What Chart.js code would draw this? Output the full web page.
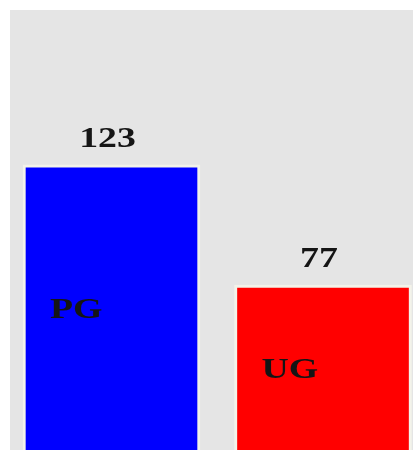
<!DOCTYPE html>
<html>
<head>
<meta charset="utf-8">
<script src="https://cdn.jsdelivr.net/npm/chart.js@4"></script>
<style>
  html, body { margin: 0; padding: 0; background: #fff; }
  #wrap { position: absolute; left: 10px; top: 10px; width: 403px; height: 440px; background: #e5e5e5; }
</style>
</head>
<body>
<div id="wrap"><canvas id="chart" width="403" height="440"></canvas></div>
<script>
const categories = ['PG', 'UG'];
const counts = [123, 77];
const barColors = ['#0000ff', '#ff0000'];

// text in the original looks stretched sideways, so labels are drawn with a scaleX
const labelPlugin = {
  id: 'barLabels',
  afterDatasetsDraw(chart) {
    const ctx = chart.ctx;
    const bottom = chart.chartArea.bottom;
    const meta = chart.getDatasetMeta(0);
    ctx.save();
    ctx.fillStyle = '#151515';
    ctx.font = 'bold 30px "Liberation Serif", "Times New Roman", serif';
    ctx.textBaseline = 'middle';
    meta.data.forEach((bar, i) => {
      const p = bar.getProps(['x', 'y', 'width'], true);
      ctx.save();
      ctx.translate(p.x - 4, p.y - 26);
      ctx.scale(1.26, 1);
      ctx.textAlign = 'center';
      ctx.fillText(String(counts[i]), 0, 0);
      ctx.restore();

      ctx.save();
      ctx.translate(p.x - p.width / 2 + 27, (p.y + bottom) / 2 + 4);
      ctx.scale(1.26, 1);
      ctx.textAlign = 'left';
      ctx.fillText(categories[i], 0, 0);
      ctx.restore();
    });
    ctx.restore();
  }
};

new Chart(document.getElementById('chart'), {
  type: 'bar',
  data: {
    labels: categories,
    datasets: [{
      data: counts,
      backgroundColor: barColors,
      borderColor: '#f3f3ea',
      borderWidth: 3,
      barThickness: 177,
      clip: false
    }]
  },
  options: {
    responsive: false,
    animation: false,
    layout: { padding: { left: 101.5, right: 90, top: 6, bottom: 3 } },
    plugins: {
      legend: { display: false },
      tooltip: { enabled: false }
    },
    scales: {
      x: { display: false, offset: false },
      y: { display: false, min: 15, max: 180 }
    }
  },
  plugins: [labelPlugin]
});
</script>
</body>
</html>
